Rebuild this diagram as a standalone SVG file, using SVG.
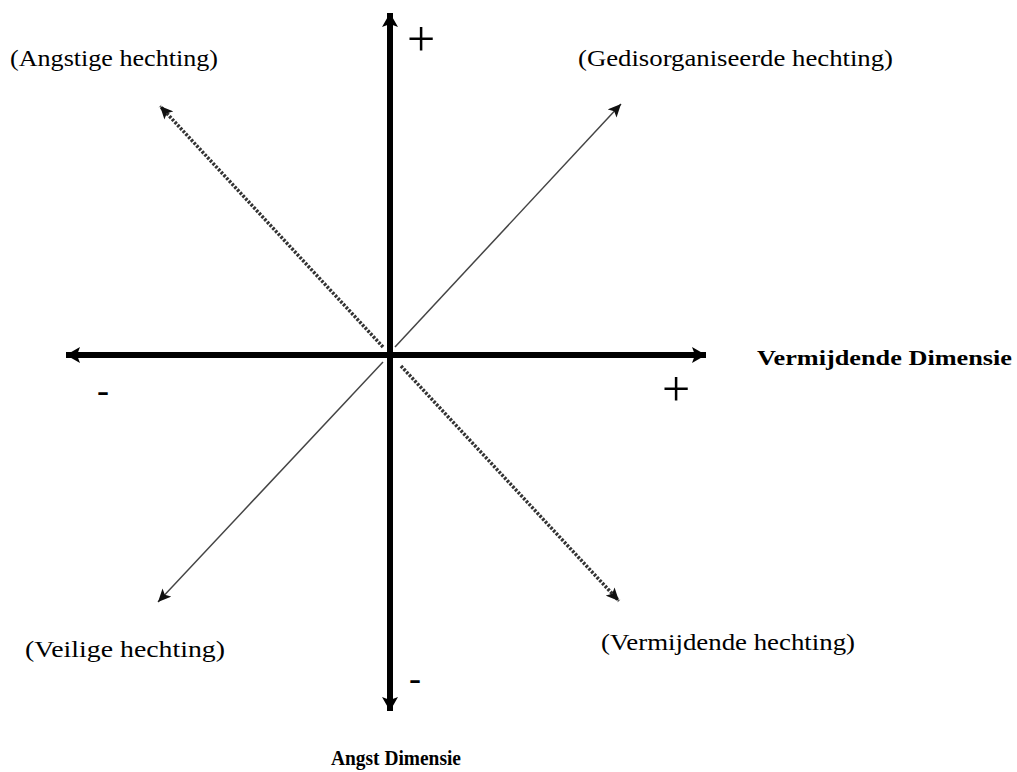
<svg xmlns="http://www.w3.org/2000/svg" width="1017" height="772" viewBox="0 0 1017 772">
<defs>
<style>
.lbl{font-family:"Liberation Serif","Times New Roman",serif;font-size:24px;fill:#000}
.bold{font-family:"Liberation Serif","Times New Roman",serif;font-size:22px;font-weight:bold;fill:#000}
.sign{font-family:"Liberation Serif","Times New Roman",serif;font-size:36px;fill:#000;text-anchor:middle}
.plus{font-family:"Liberation Serif","Times New Roman",serif;font-size:50px;fill:#000;text-anchor:middle}
.axis{stroke:#000;stroke-width:6;fill:none}
.thin{stroke:#444;stroke-width:1.5;fill:none}
.dot{stroke:#333;stroke-width:3.5;stroke-dasharray:2.5 1.5;fill:none}
</style>
<marker id="big" markerUnits="userSpaceOnUse" markerWidth="16" markerHeight="16" refX="14" refY="8" orient="auto">
<path d="M0,0 L14,8 L0,16 L3,8 Z" fill="#000"/>
</marker>
<marker id="small" markerUnits="userSpaceOnUse" markerWidth="14" markerHeight="12" refX="13" refY="6" orient="auto">
<path d="M0,0 L13,6 L0,12 L3,6 Z" fill="#111"/>
</marker>
</defs>
<rect width="1017" height="772" fill="#fff"/>
<g id="connectors">
<line class="axis" x1="390" y1="355" x2="390" y2="13" marker-end="url(#big)"/>
<line class="axis" x1="390" y1="355" x2="390" y2="711" marker-end="url(#big)"/>
<line class="axis" x1="390" y1="355" x2="66" y2="355" marker-end="url(#big)"/>
<line class="axis" x1="390" y1="355" x2="706" y2="355" marker-end="url(#big)"/>
<line class="dot" x1="383" y1="347" x2="160" y2="106" marker-end="url(#small)"/>
<line class="thin" x1="395" y1="347" x2="621" y2="104" marker-end="url(#small)"/>
<line class="thin" x1="383" y1="362" x2="158" y2="602" marker-end="url(#small)"/>
<line class="dot" x1="401" y1="366" x2="619" y2="601" marker-end="url(#small)"/>
</g>
<g id="angstige"><text class="lbl" x="10" y="66" textLength="208" lengthAdjust="spacingAndGlyphs">(Angstige hechting)</text></g>
<g id="gedisorganiseerde"><text class="lbl" x="578" y="66" textLength="315" lengthAdjust="spacingAndGlyphs">(Gedisorganiseerde hechting)</text></g>
<g id="vermijdende-dimensie"><text class="bold" x="757" y="365" textLength="255" lengthAdjust="spacingAndGlyphs">Vermijdende Dimensie</text></g>
<g id="veilige"><text class="lbl" x="25" y="657" textLength="200" lengthAdjust="spacingAndGlyphs">(Veilige hechting)</text></g>
<g id="vermijdende"><text class="lbl" x="601" y="650" textLength="254" lengthAdjust="spacingAndGlyphs">(Vermijdende hechting)</text></g>
<g id="angst-dimensie"><text class="bold" x="331" y="765" style="font-size:21px" textLength="130" lengthAdjust="spacingAndGlyphs">Angst Dimensie</text></g>
<g id="signs">
<text class="plus" x="421" y="56">+</text>
<text class="plus" x="676" y="406">+</text>
<text class="sign" x="103" y="402">-</text>
<text class="sign" x="415" y="690">-</text>
</g>
</svg>
